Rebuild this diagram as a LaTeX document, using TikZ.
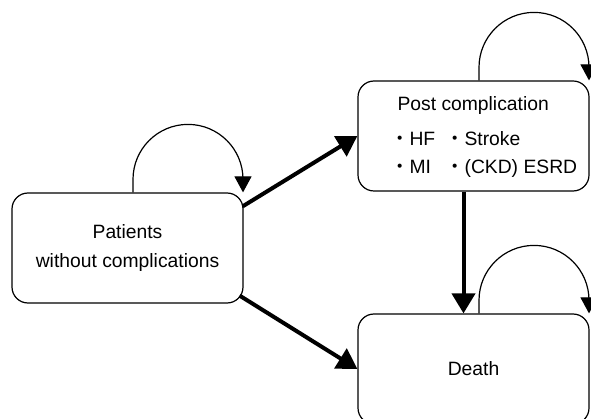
\documentclass[tikz,border=0pt]{standalone}
\usepackage{fontspec}
\setmainfont{Liberation Sans}
\newfontfamily\cjk{Noto Sans CJK JP}
\usetikzlibrary{arrows.meta,calc}

\begin{document}
\begin{tikzpicture}[x=1pt, y=-1pt,
    stateBox/.style={draw, line width=1.2pt, rounded corners=16pt, minimum width=231pt,
        minimum height=110pt, inner sep=0pt, font=\fontsize{19.3}{29}\selectfont},
    thickArrow/.style={line width=4pt, -{Triangle[length=20pt,width=23pt]}},
    selfLoop/.style={line width=1.2pt, -{Triangle[length=16pt,width=17pt]}}]
    \def\loopRadius{55pt}
    \def\dotMark{{\cjk ・}}

    \useasboundingbox (0,0) rectangle (591,419);

    % States
    \node[stateBox, align=center] (patients) at (127.5,248) {Patients\\without complications};
    \node[stateBox, font=\fontsize{19.3}{28}\selectfont] (post) at (473.5,136) {%
        \begin{tabular}{@{\hspace{20.4pt}}l@{\hspace{10pt}}l@{}}
            \multicolumn{2}{@{\hspace{27.7pt}}l@{}}{Post complication}\\[7pt]
            \dotMark HF & \dotMark Stroke\\
            \dotMark MI & \dotMark (CKD) ESRD
        \end{tabular}};
    \node[stateBox] (death) at (473.5,369) {Death};

    % Transitions between states
    \draw[thickArrow] ($(patients.north east)+(-1,14)$) -- (post.west);
    \draw[thickArrow] ($(patients.south east)+(-4,-8)$) -- (death.west);
    \draw[thickArrow] ($(post.south)+(-10,0)$) -- ($(death.north)+(-10,0)$);

    % Staying in the same state
    \foreach \s in {patients,post,death}
        \draw[selfLoop] ($(\s.north)+(5.5,0)$) -- ++(0,-13)
            arc[start angle=180, end angle=0, radius=\loopRadius] -- ++(0,13);
\end{tikzpicture}
\end{document}
